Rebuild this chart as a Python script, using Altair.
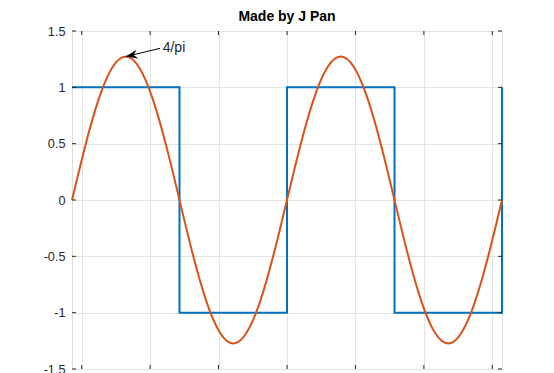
import altair as alt
import pandas as pd

# ---- data ----
sq_t = [0.0, 3.1416, 3.1416, 6.2832, 6.2832, 9.4248, 9.4248, 12.5664, 12.5664]
sq_y = [1, 1, -1, -1, 1, 1, -1, -1, 1]

sin_t = [0.000, 0.393, 0.785, 1.178, 1.571, 1.963, 2.356, 2.749, 3.142,
         3.534, 3.927, 4.320, 4.712, 5.105, 5.498, 5.890, 6.283,
         6.676, 7.069, 7.461, 7.854, 8.247, 8.639, 9.032, 9.425,
         9.817, 10.210, 10.603, 10.996, 11.388, 11.781, 12.174, 12.566]
sin_y = [0.000, 0.487, 0.900, 1.176, 1.273, 1.176, 0.900, 0.487, 0.000,
         -0.487, -0.900, -1.176, -1.273, -1.176, -0.900, -0.487, 0.000,
         0.487, 0.900, 1.176, 1.273, 1.176, 0.900, 0.487, 0.000,
         -0.487, -0.900, -1.176, -1.273, -1.176, -0.900, -0.487, 0.000]

x_ticks = [0.2832, 2.2832, 4.2832, 6.2832, 8.2832, 10.2832, 12.2832]
y_ticks = [-1.5, -1.0, -0.5, 0.0, 0.5, 1.0, 1.5]

arrow_tip = [1.571, 1.273]
arrow_tail = [2.572, 1.346]
note_pos = [2.65, 1.345]
note_text = "4/pi"

X_DOMAIN = [0, 12.5664]
Y_DOMAIN = [-1.5, 1.5]
W, H = 430, 338

sq_df = pd.DataFrame({"t": sq_t, "y": sq_y, "i": list(range(len(sq_t)))})
sin_df = pd.DataFrame({"t": sin_t, "y": sin_y, "i": list(range(len(sin_t)))})
xt_df = pd.DataFrame({"t": x_ticks})
yt_df = pd.DataFrame({"y": y_ticks})

xs = alt.Scale(domain=X_DOMAIN, nice=False, zero=False)
ys = alt.Scale(domain=Y_DOMAIN, nice=False, zero=False)

FONT = "Liberation Sans"

base_axes = alt.Chart(sin_df).mark_line(opacity=0).encode(
    x=alt.X("t:Q", scale=xs, title=None,
            axis=alt.Axis(values=x_ticks, labels=False, ticks=False, domain=False,
                          grid=True, gridColor="#e3e3e3", gridWidth=1)),
    y=alt.Y("y:Q", scale=ys, title=None,
            axis=alt.Axis(values=y_ticks, ticks=False, tickSize=0, domain=False,
                          grid=True, gridColor="#e3e3e3", gridWidth=1,
                          labelFont=FONT, labelFontSize=12.7, labelColor="#262626",
                          labelPadding=7, labelExpr="'' + datum.value")),
)

TC = "#262626"
tick_left = alt.Chart(yt_df).mark_rule(color=TC, strokeWidth=1).encode(
    y=alt.Y("y:Q", scale=ys), x=alt.value(0), x2=alt.value(4))
tick_right = alt.Chart(yt_df).mark_rule(color=TC, strokeWidth=1).encode(
    y=alt.Y("y:Q", scale=ys), x=alt.value(W - 4), x2=alt.value(W))
tick_top = alt.Chart(xt_df).mark_rule(color=TC, strokeWidth=1).encode(
    x=alt.X("t:Q", scale=xs), y=alt.value(0), y2=alt.value(4))
tick_bot = alt.Chart(xt_df).mark_rule(color=TC, strokeWidth=1).encode(
    x=alt.X("t:Q", scale=xs), y=alt.value(H - 4), y2=alt.value(H))

square = alt.Chart(sq_df).mark_line(color="#0072BD", strokeWidth=2).encode(
    x=alt.X("t:Q", scale=xs), y=alt.Y("y:Q", scale=ys), order="i:O")
sine = alt.Chart(sin_df).mark_line(color="#D95319", strokeWidth=2,
                                   interpolate="natural").encode(
    x=alt.X("t:Q", scale=xs), y=alt.Y("y:Q", scale=ys), order="i:O")

arrow_df = pd.DataFrame({"t": [arrow_tip[0]], "y": [arrow_tip[1]],
                         "t2": [arrow_tail[0]], "y2": [arrow_tail[1]]})
shaft = alt.Chart(arrow_df).mark_rule(color="black", strokeWidth=1).encode(
    x=alt.X("t:Q", scale=xs), y=alt.Y("y:Q", scale=ys), x2="t2:Q", y2="y2:Q")
head = alt.Chart(arrow_df).mark_point(
    shape="M0,0L-2.4,-0.9L-1.6,0L-2.4,0.9Z", filled=True, size=100,
    angle=168, color="black", opacity=1, strokeWidth=0).encode(
    x=alt.X("t:Q", scale=xs), y=alt.Y("y:Q", scale=ys))
note_df = pd.DataFrame({"t": [note_pos[0]], "y": [note_pos[1]], "txt": [note_text]})
note = alt.Chart(note_df).mark_text(align="left", baseline="middle", font=FONT,
                                    fontSize=14, color="#262626").encode(
    x=alt.X("t:Q", scale=xs), y=alt.Y("y:Q", scale=ys), text="txt:N")

chart = alt.layer(base_axes, square, sine, tick_left, tick_right, tick_top, tick_bot,
                  shaft, head, note).properties(
    width=W, height=H,
    title=alt.TitleParams("Made by J Pan", font=FONT, fontSize=14, fontWeight="bold",
                          color="black", anchor="middle", offset=1),
    autosize=alt.AutoSizeParams(type="none"),
    padding={"left": 72, "top": 31, "right": 52, "bottom": 4},
).configure_view(stroke="#3a3a3a", strokeWidth=1).configure(background="white")

chart.save("out.html", embed_options={"renderer": "svg", "actions": False})
